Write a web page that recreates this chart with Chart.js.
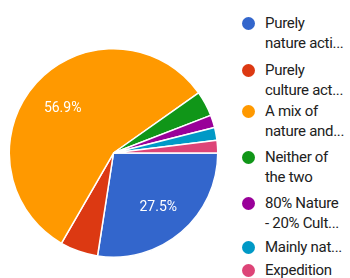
<!DOCTYPE html>
<html><head><meta charset="utf-8">
<script src="https://cdn.jsdelivr.net/npm/chart.js@4"></script>
<style>
html,body{margin:0;padding:0;background:#fff;width:350px;height:278px;overflow:hidden;font-family:Roboto,"Noto Sans",sans-serif;}
#wrap{position:absolute;left:8px;top:48px;width:211px;height:210px;}
#legend{position:absolute;left:242px;top:0;width:108px;height:278px;font-size:15px;line-height:20px;color:#212121;letter-spacing:-0.3px;}
.item{position:absolute;left:0;padding-left:23px;white-space:nowrap;}
.dot{position:absolute;left:0;top:3.5px;width:13px;height:13px;border-radius:50%;}
.item:nth-child(1){top:13px;}
.item:nth-child(2){top:60px;}
.item:nth-child(3){top:101px;}
.item:nth-child(4){top:147px;}
.item:nth-child(5){top:193px;}
.item:nth-child(6){top:237px;}
.item:nth-child(7){top:260px;}
</style></head><body>
<div id="wrap"><canvas id="c"></canvas></div>
<div id="legend"></div>
<script>
const categories = [
  ["Purely", "nature acti..."],
  ["Purely", "culture act..."],
  ["A mix of", "nature and..."],
  ["Neither of", "the two"],
  ["80% Nature", "- 20% Cult..."],
  ["Mainly nat..."],
  ["Expedition"]
];
const responses = [14, 3, 29, 2, 1, 1, 1];
const colors = ["#3366CC", "#DC3912", "#FF9900", "#109618", "#990099", "#0099C6", "#DD4477"];

const leg = document.getElementById('legend');
categories.forEach((lines, i) => {
  const d = document.createElement('div'); d.className = 'item';
  const dot = document.createElement('span'); dot.className = 'dot'; dot.style.background = colors[i];
  d.appendChild(dot);
  lines.forEach((t, j) => { if (j) d.appendChild(document.createElement('br')); d.appendChild(document.createTextNode(t)); });
  leg.appendChild(d);
});

const total = responses.reduce((a, b) => a + b, 0);
const pctLabels = {
  id: 'pctLabels',
  afterDatasetsDraw(chart) {
    const ctx = chart.ctx;
    const meta = chart.getDatasetMeta(0);
    ctx.save();
    ctx.fillStyle = '#fff';
    ctx.font = '14px Roboto, sans-serif';
    ctx.textAlign = 'center';
    ctx.textBaseline = 'middle';
    meta.data.forEach((arc, i) => {
      const pct = responses[i] / total * 100;
      if (pct < 10) return;
      const p = arc.getProps(['x', 'y', 'startAngle', 'endAngle', 'outerRadius'], true);
      const mid = (p.startAngle + p.endAngle) / 2;
      const r = p.outerRadius * 0.66;
      ctx.fillText(pct.toFixed(1) + '%', p.x + Math.cos(mid) * r, p.y + Math.sin(mid) * r + 2);
    });
    ctx.restore();
  }
};

new Chart(document.getElementById('c'), {
  type: 'pie',
  data: {
    labels: categories.map(l => l.join(' ')),
    datasets: [{ data: responses, backgroundColor: colors, borderColor: '#fff', borderWidth: 1.5 }]
  },
  options: {
    responsive: true, maintainAspectRatio: false, animation: false,
    rotation: 90,
    layout: { padding: 0 },
    plugins: { legend: { display: false }, tooltip: { enabled: false } }
  },
  plugins: [pctLabels]
});
</script>
</body></html>
